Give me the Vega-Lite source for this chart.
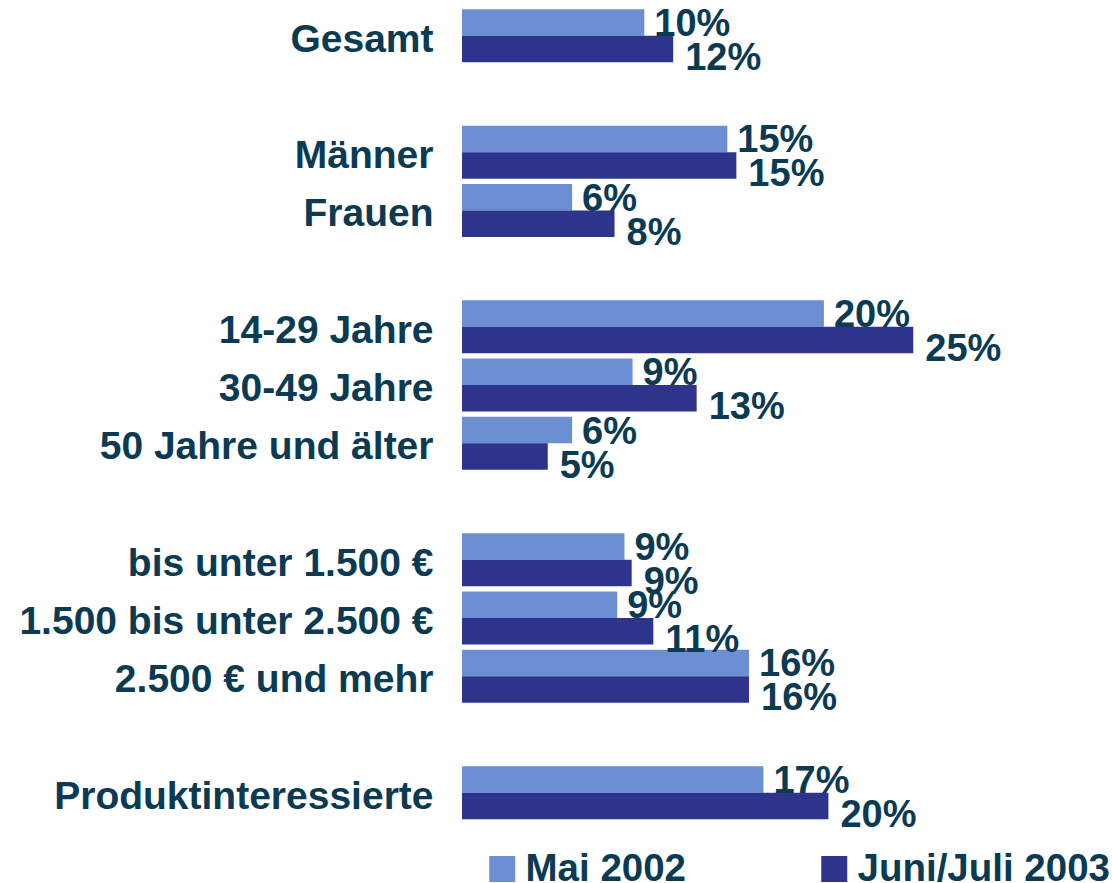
{
  "$schema": "https://vega.github.io/schema/vega-lite/v6.json",
  "width": 650,
  "height": 815.2,
  "autosize": {"type": "none"},
  "padding": {"left": 462, "top": 6.6, "right": 0, "bottom": 61.2},
  "background": "white",
  "config": {"view": {"stroke": null}, "font": "Liberation Sans"},
  "data": {
    "values": [
      {"category": "Gesamt", "series": "Mai 2002", "value": 10.1, "label": "10%"},
      {"category": "Gesamt", "series": "Juni/Juli 2003", "value": 11.7, "label": "12%"},
      {"category": "Männer", "series": "Mai 2002", "value": 14.7, "label": "15%"},
      {"category": "Männer", "series": "Juni/Juli 2003", "value": 15.2, "label": "15%"},
      {"category": "Frauen", "series": "Mai 2002", "value": 6.1, "label": "6%"},
      {"category": "Frauen", "series": "Juni/Juli 2003", "value": 8.45, "label": "8%"},
      {"category": "14-29 Jahre", "series": "Mai 2002", "value": 20.05, "label": "20%"},
      {"category": "14-29 Jahre", "series": "Juni/Juli 2003", "value": 25.0, "label": "25%"},
      {"category": "30-49 Jahre", "series": "Mai 2002", "value": 9.45, "label": "9%"},
      {"category": "30-49 Jahre", "series": "Juni/Juli 2003", "value": 13.0, "label": "13%"},
      {"category": "50 Jahre und älter", "series": "Mai 2002", "value": 6.1, "label": "6%"},
      {"category": "50 Jahre und älter", "series": "Juni/Juli 2003", "value": 4.75, "label": "5%"},
      {"category": "bis unter 1.500 €", "series": "Mai 2002", "value": 9.0, "label": "9%"},
      {"category": "bis unter 1.500 €", "series": "Juni/Juli 2003", "value": 9.4, "label": "9%"},
      {"category": "1.500 bis unter 2.500 €", "series": "Mai 2002", "value": 8.6, "label": "9%"},
      {"category": "1.500 bis unter 2.500 €", "series": "Juni/Juli 2003", "value": 10.6, "label": "11%"},
      {"category": "2.500 € und mehr", "series": "Mai 2002", "value": 15.9, "label": "16%"},
      {"category": "2.500 € und mehr", "series": "Juni/Juli 2003", "value": 15.9, "label": "16%"},
      {"category": "Produktinteressierte", "series": "Mai 2002", "value": 16.7, "label": "17%"},
      {"category": "Produktinteressierte", "series": "Juni/Juli 2003", "value": 20.3, "label": "20%"}
    ]
  },
  "encoding": {
    "y": {
      "field": "category",
      "type": "nominal",
      "title": null,
      "scale": {
        "domain": ["Gesamt", "_1", "Männer", "Frauen", "_2", "14-29 Jahre", "30-49 Jahre", "50 Jahre und älter", "_3", "bis unter 1.500 €", "1.500 bis unter 2.500 €", "2.500 € und mehr", "_4", "Produktinteressierte"],
        "paddingInner": 0.09,
        "paddingOuter": 0.045
      },
      "axis": {
        "domain": false,
        "ticks": false,
        "grid": false,
        "labelPadding": 29,
        "labelFont": "Liberation Sans",
        "labelFontWeight": "bold",
        "labelFontSize": 39,
        "labelColor": "#0b3a53",
        "labelLimit": 600,
        "labelOffset": 4,
        "labelExpr": "indexof(datum.value, '_') == 0 ? '' : datum.value"
      }
    },
    "yOffset": {
      "field": "series",
      "type": "nominal",
      "scale": {"domain": ["Mai 2002", "Juni/Juli 2003"], "paddingInner": 0, "paddingOuter": 0}
    },
    "x": {
      "field": "value",
      "type": "quantitative",
      "scale": {"domain": [0, 36.01], "nice": false, "zero": true},
      "axis": null
    }
  },
  "layer": [
    {
      "mark": {"type": "bar", "clip": false},
      "encoding": {
        "color": {
          "field": "series",
          "type": "nominal",
          "scale": {"domain": ["Mai 2002", "Juni/Juli 2003"], "range": ["#6c8fd4", "#2e348c"]},
          "legend": {
            "orient": "none",
            "legendX": 21,
            "legendY": 843,
            "direction": "horizontal",
            "columns": 2,
            "title": null,
            "padding": 0,
            "symbolType": "square",
            "symbolSize": 676,
            "symbolStrokeWidth": 0,
            "symbolOpacity": 1,
            "labelFont": "Liberation Sans",
            "labelFontWeight": "bold",
            "labelFontSize": 38.5,
            "labelColor": "#0b3a53",
            "labelOffset": 4,
            "labelLimit": 600,
            "columnPadding": 128
          }
        }
      }
    },
    {
      "transform": [{"filter": "datum.series === 'Mai 2002'"}],
      "mark": {
        "type": "text",
        "align": "left",
        "baseline": "middle",
        "dx": 10,
        "dy": 2.5,
        "font": "Liberation Sans",
        "fontSize": 38,
        "fontWeight": "bold",
        "color": "#0b3a53"
      },
      "encoding": {"text": {"field": "label"}}
    },
    {
      "transform": [{"filter": "datum.series === 'Juni/Juli 2003'"}],
      "mark": {
        "type": "text",
        "align": "left",
        "baseline": "middle",
        "dx": 12,
        "dy": 10,
        "font": "Liberation Sans",
        "fontSize": 38,
        "fontWeight": "bold",
        "color": "#0b3a53"
      },
      "encoding": {"text": {"field": "label"}}
    }
  ]
}
